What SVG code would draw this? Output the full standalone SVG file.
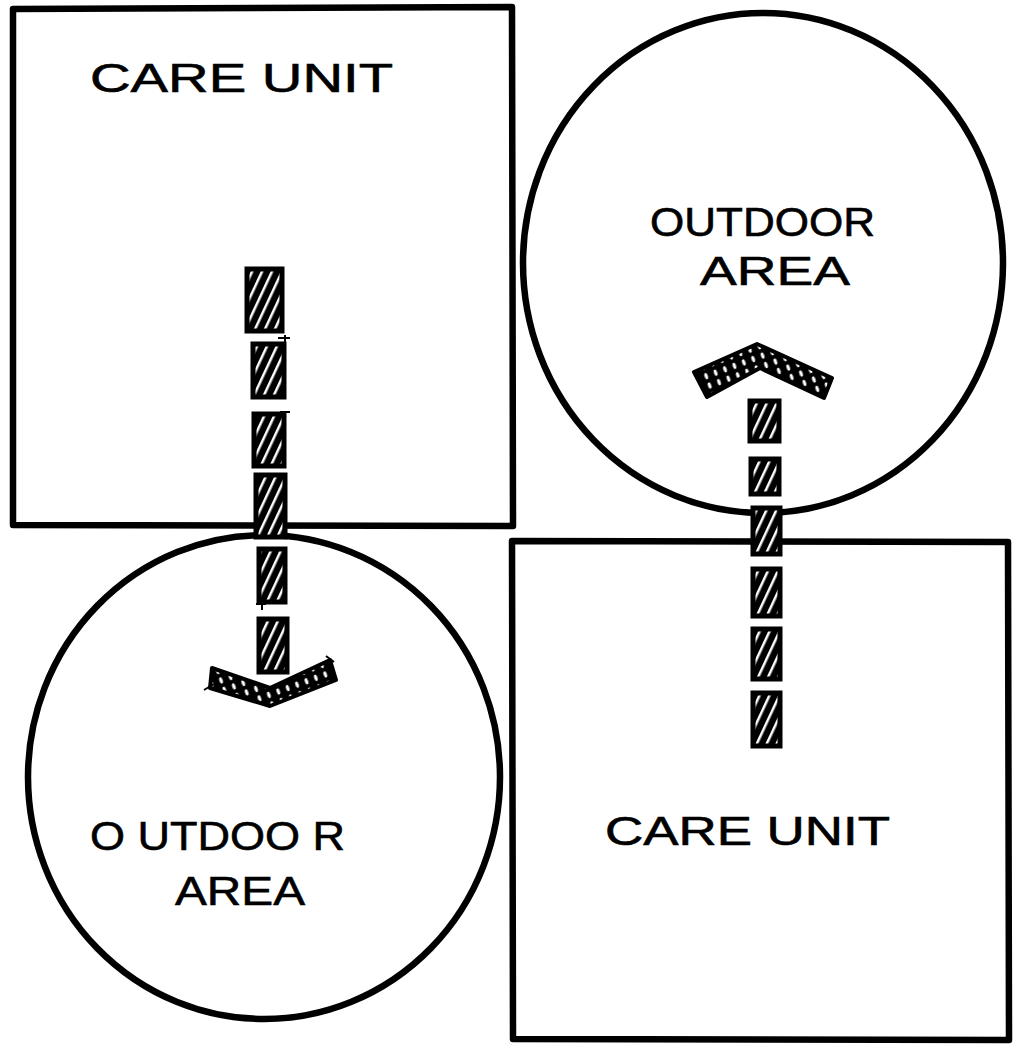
<svg xmlns="http://www.w3.org/2000/svg" width="1016" height="1051" viewBox="0 0 1016 1051">
<style>
.edge{fill:none;stroke:#000;stroke-width:6.5;stroke-linejoin:round;stroke-linecap:round}
.lbl{font-family:"Liberation Sans",Arial,sans-serif;font-size:40px;fill:#000;stroke:#000;stroke-width:0.6}
.blk{fill:url(#hatch);stroke:#000;stroke-width:5}
.chev{fill:url(#dots);stroke:#000;stroke-width:4;stroke-linejoin:round}
.tick{stroke:#000;stroke-width:2}
</style>
<defs>
<pattern id="hatch" width="9" height="9" patternUnits="userSpaceOnUse" patternTransform="rotate(25)">
<rect width="9" height="9" fill="#000"/>
<rect x="0" y="0" width="2.5" height="9" fill="#fff"/>
</pattern>
<pattern id="dots" width="10" height="10" patternUnits="userSpaceOnUse" patternTransform="rotate(-20)">
<rect width="10" height="10" fill="#000"/>
<ellipse cx="5" cy="5" rx="1.6" ry="3.2" fill="#fff"/>
</pattern>
</defs>
<rect width="1016" height="1051" fill="#fff"/>

<g id="care-unit-top-left">
<path class="edge" d="M13,9 L512,7 L513,526 L13,525 Z"/>
<text class="lbl" x="90" y="92" textLength="303" lengthAdjust="spacingAndGlyphs">CARE  UNIT</text>
</g>

<g id="outdoor-area-top-right">
<ellipse class="edge" cx="763" cy="263" rx="240" ry="250"/>
<text class="lbl" x="650" y="236" textLength="225" lengthAdjust="spacingAndGlyphs">OUTDOOR</text>
<text class="lbl" x="700" y="285" textLength="150" lengthAdjust="spacingAndGlyphs">AREA</text>
</g>

<g id="outdoor-area-bottom-left">
<ellipse class="edge" cx="264" cy="777" rx="236" ry="242"/>
<text class="lbl" x="90" y="850" textLength="255" lengthAdjust="spacingAndGlyphs">O UTDOO R</text>
<text class="lbl" x="175" y="905" textLength="130" lengthAdjust="spacingAndGlyphs">AREA</text>
</g>

<g id="care-unit-bottom-right">
<path class="edge" d="M512,541 L1008,542 L1009,1040 L513,1039 Z"/>
<text class="lbl" x="605" y="845" textLength="285" lengthAdjust="spacingAndGlyphs">CARE  UNIT</text>
</g>

<g id="connectors">
<g id="arrow-left">
<rect class="blk" x="247" y="269" width="35" height="62"/>
<rect class="blk" x="253" y="344" width="31" height="53"/>
<rect class="blk" x="254" y="414" width="30" height="52"/>
<rect class="blk" x="256" y="475" width="29" height="62"/>
<rect class="blk" x="259" y="549" width="26" height="53"/>
<rect class="blk" x="259" y="619" width="28" height="53"/>
<line class="tick" x1="278" y1="338" x2="290" y2="338"/>
<line class="tick" x1="285" y1="335" x2="285" y2="345"/>
<line class="tick" x1="280" y1="412" x2="290" y2="412"/>
<line class="tick" x1="256" y1="604" x2="266" y2="604"/>
<line class="tick" x1="262" y1="598" x2="262" y2="610"/>
<polygon class="chev" points="212,668 270,688 330,660 336,680 270,706 210,688"/>
<line class="tick" x1="204" y1="690" x2="214" y2="684"/>
<line class="tick" x1="326" y1="656" x2="334" y2="662"/>
</g>
<g id="arrow-right">
<rect class="blk" x="750" y="401" width="29" height="40"/>
<rect class="blk" x="751" y="459" width="28" height="35"/>
<rect class="blk" x="753" y="508" width="27" height="46"/>
<rect class="blk" x="753" y="569" width="27" height="47"/>
<rect class="blk" x="753" y="629" width="27" height="50"/>
<rect class="blk" x="753" y="693" width="27" height="53"/>
<polygon class="chev" points="694,372 757,344 832,378 824,398 760,368 707,397"/>
</g>
</g>
</svg>
